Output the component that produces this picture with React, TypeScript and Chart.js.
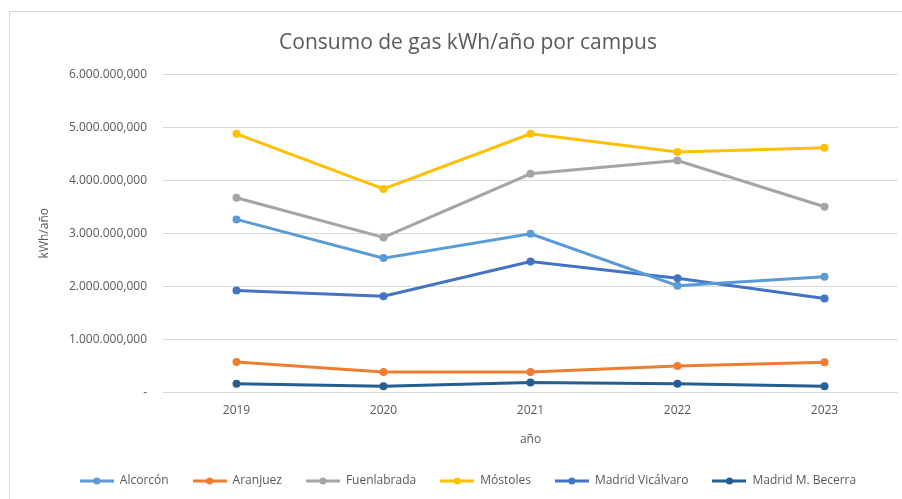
import React, { useEffect, useRef } from "react";
import { Chart, registerables } from "chart.js";

Chart.register(...registerables);

const years = ["2019", "2020", "2021", "2022", "2023"];
const seriesNames = ["Alcorcón", "Aranjuez", "Fuenlabrada", "Móstoles", "Madrid Vicálvaro", "Madrid M. Becerra"];
const alcorcon = [3260000, 2530000, 2990000, 2010000, 2180000];
const aranjuez = [570000, 380000, 380000, 495000, 565000];
const fuenlabrada = [3670000, 2920000, 4120000, 4370000, 3500000];
const mostoles = [4875000, 3835000, 4875000, 4530000, 4610000];
const vicalvaro = [1920000, 1810000, 2465000, 2150000, 1770000];
const becerra = [160000, 110000, 185000, 160000, 110000];
const seriesValues = [alcorcon, aranjuez, fuenlabrada, mostoles, vicalvaro, becerra];
const seriesColors = ["#5B9BD5", "#ED7D31", "#A5A5A5", "#FFC000", "#4472C4", "#255E91"];

const FONT = "'Open Sans', 'Liberation Sans', sans-serif";
const TEXT = "#595959";

function fmt(v: number): string {
  if (v === 0) return "-";
  const s = Math.round(v).toString().replace(/\B(?=(\d{3})+(?!\d))/g, ".");
  return s + ",000";
}

function legendIcon(color: string): HTMLCanvasElement {
  const c = document.createElement("canvas");
  c.width = 34;
  c.height = 10;
  const ctx = c.getContext("2d")!;
  ctx.strokeStyle = color;
  ctx.lineWidth = 3;
  ctx.beginPath();
  ctx.moveTo(0, 5);
  ctx.lineTo(34, 5);
  ctx.stroke();
  ctx.fillStyle = color;
  ctx.beginPath();
  ctx.arc(17, 5, 3.5, 0, Math.PI * 2);
  ctx.fill();
  return c;
}

export default function App() {
  const ref = useRef<HTMLCanvasElement>(null);
  useEffect(() => {
    document.body.style.margin = "0";
    const icons = seriesColors.map(legendIcon);
    const chart = new Chart(ref.current!, {
      type: "line",
      data: {
        labels: years,
        datasets: seriesNames.map((name, i) => ({
          label: name,
          data: seriesValues[i],
          borderColor: seriesColors[i],
          backgroundColor: seriesColors[i],
          borderWidth: 3,
          pointRadius: 4,
          pointBorderWidth: 0,
          pointBackgroundColor: seriesColors[i],
          pointStyle: "circle",
          tension: 0,
          fill: false,
        })),
      },
      options: {
        animation: false,
        responsive: false,
        maintainAspectRatio: false,
        layout: { padding: { left: 37, right: 3, top: 0, bottom: 2 } },
        plugins: {
          title: {
            display: true,
            text: "Consumo de gas kWh/año por campus",
            color: TEXT,
            font: { family: FONT, size: 21, weight: "normal" },
            padding: { top: 30, bottom: 19 },
          },
          legend: {
            position: "bottom",
            labels: {
              color: TEXT,
              font: { family: FONT, size: 12 },
              usePointStyle: true,
              pointStyleWidth: 34,
              boxHeight: 10,
              padding: 24,
              generateLabels: (ch: any) =>
                ch.data.datasets.map((ds: any, i: number) => ({
                  text: ds.label,
                  fillStyle: seriesColors[i],
                  strokeStyle: seriesColors[i],
                  lineWidth: 0,
                  pointStyle: icons[i],
                  hidden: false,
                  datasetIndex: i,
                  fontColor: TEXT,
                })),
            },
          },
          tooltip: { enabled: false },
        },
        scales: {
          x: {
            offset: true,
            grid: { display: false, drawTicks: false },
            border: { display: false },
            ticks: { color: TEXT, font: { family: FONT, size: 12 }, padding: 11 },
            title: {
              display: true,
              text: "año",
              color: TEXT,
              font: { family: FONT, size: 12 },
              padding: { top: 4, bottom: 4 },
            },
          },
          y: {
            min: 0,
            max: 6000000,
            grid: { color: "#D9D9D9", lineWidth: 1, drawTicks: false },
            border: { display: false },
            ticks: {
              stepSize: 1000000,
              color: TEXT,
              font: { family: FONT, size: 12 },
              padding: 16,
              callback: (v: any) => fmt(Number(v)),
            },
            title: {
              display: true,
              text: "kWh/año",
              color: TEXT,
              font: { family: FONT, size: 12 },
              padding: 0,
            },
            afterFit: (s: any) => {
              s.width = 126;
            },
          },
        },
      },
    });
    return () => chart.destroy();
  }, []);
  return (
    <div style={{ position: "relative", width: 902, height: 499, background: "#fff", overflow: "hidden" }}>
      <div
        style={{
          position: "absolute",
          left: 9,
          top: 11,
          width: 900,
          height: 500,
          border: "1px solid #D9D9D9",
          boxSizing: "border-box",
        }}
      />
      <canvas ref={ref} width={902} height={499} style={{ position: "absolute", left: 0, top: 0 }} />
    </div>
  );
}
